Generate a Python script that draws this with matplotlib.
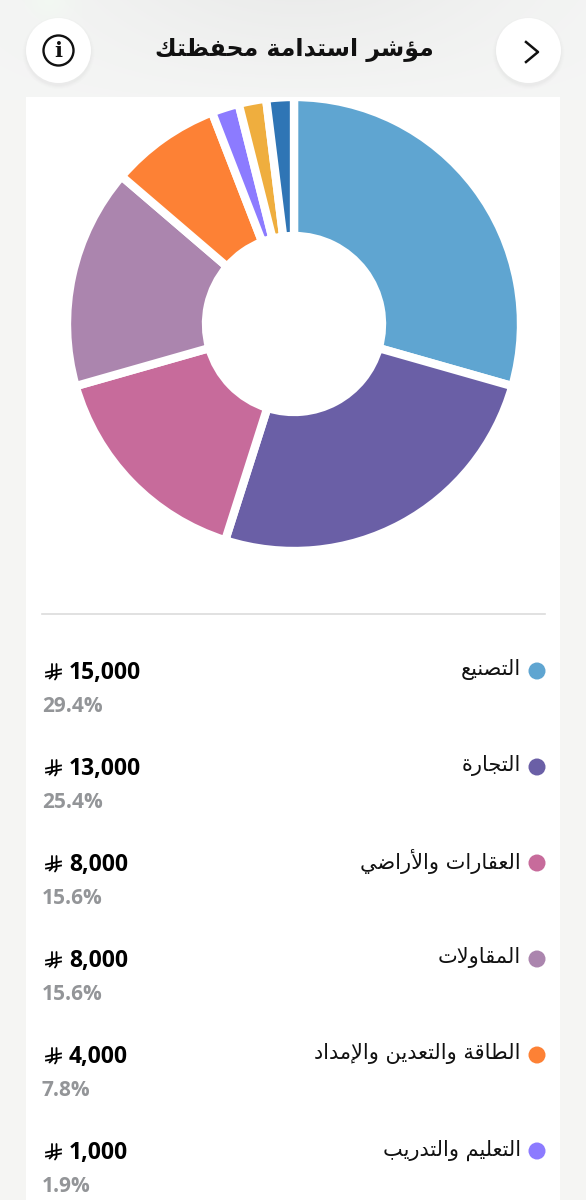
import numpy as np
import matplotlib
matplotlib.use('Agg')
import matplotlib.pyplot as plt
from matplotlib.patches import Circle, Rectangle

values = [15000, 13000, 8000, 8000, 4000, 1000, 1000, 1000]
colors = ['#5fa5d1', '#6a5fa6', '#c76b9b', '#ab85ae', '#fd8135', '#8c7bff', '#efae3e', '#2f75b5']
names = ['التصنيع', 'التجارة', 'العقارات والأراضي', 'المقاولات', 'الطاقة والتعدين والإمداد', 'التعليم والتدريب']
amounts = ['15,000', '13,000', '8,000', '8,000', '4,000', '1,000']
percents = ['29.4%', '25.4%', '15.6%', '15.6%', '7.8%', '1.9%']
title = 'مؤشر استدامة محفظتك'

# (isolated, final, initial, medial); letters with two forms only join to the right
forms = {
    'ا': (0xFE8D, 0xFE8E), 'أ': (0xFE83, 0xFE84), 'إ': (0xFE87, 0xFE88), 'ؤ': (0xFE85, 0xFE86),
    'ة': (0xFE93, 0xFE94), 'د': (0xFEA9, 0xFEAA), 'ر': (0xFEAD, 0xFEAE), 'و': (0xFEED, 0xFEEE),
    'ب': (0xFE8F, 0xFE90, 0xFE91, 0xFE92), 'ت': (0xFE95, 0xFE96, 0xFE97, 0xFE98),
    'ج': (0xFE9D, 0xFE9E, 0xFE9F, 0xFEA0), 'ح': (0xFEA1, 0xFEA2, 0xFEA3, 0xFEA4),
    'س': (0xFEB1, 0xFEB2, 0xFEB3, 0xFEB4), 'ش': (0xFEB5, 0xFEB6, 0xFEB7, 0xFEB8),
    'ص': (0xFEB9, 0xFEBA, 0xFEBB, 0xFEBC), 'ض': (0xFEBD, 0xFEBE, 0xFEBF, 0xFEC0),
    'ط': (0xFEC1, 0xFEC2, 0xFEC3, 0xFEC4), 'ظ': (0xFEC5, 0xFEC6, 0xFEC7, 0xFEC8),
    'ع': (0xFEC9, 0xFECA, 0xFECB, 0xFECC), 'ف': (0xFED1, 0xFED2, 0xFED3, 0xFED4),
    'ق': (0xFED5, 0xFED6, 0xFED7, 0xFED8), 'ك': (0xFED9, 0xFEDA, 0xFEDB, 0xFEDC),
    'ل': (0xFEDD, 0xFEDE, 0xFEDF, 0xFEE0), 'م': (0xFEE1, 0xFEE2, 0xFEE3, 0xFEE4),
    'ن': (0xFEE5, 0xFEE6, 0xFEE7, 0xFEE8), 'ي': (0xFEF1, 0xFEF2, 0xFEF3, 0xFEF4),
}
lam_alef = {'ا': (0xFEFB, 0xFEFC), 'أ': (0xFEF7, 0xFEF8), 'إ': (0xFEF9, 0xFEFA)}


# matplotlib does no shaping or bidi, so pick the joined forms and reverse
def arabic(s):
    out = []
    i = 0
    joins = False
    while i < len(s):
        c = s[i]
        if c not in forms:
            out.append(c)
            joins = False
            i += 1
            continue
        if c == 'ل' and i + 1 < len(s) and s[i + 1] in lam_alef:
            out.append(chr(lam_alef[s[i + 1]][1 if joins else 0]))
            joins = False
            i += 2
            continue
        f = forms[c]
        next_joins = i + 1 < len(s) and s[i + 1] in forms
        if len(f) == 2:
            out.append(chr(f[1] if joins else f[0]))
            joins = False
        else:
            if joins and next_joins:
                out.append(chr(f[3]))
            elif joins:
                out.append(chr(f[1]))
            elif next_joins:
                out.append(chr(f[2]))
            else:
                out.append(chr(f[0]))
            joins = next_joins
        i += 1
    return ''.join(out[::-1])


# new riyal sign is not in any installed font, so it is stroked by hand
def riyal(ax, x, y):
    lw = 1.3
    ax.plot([x + 6, x + 6, x + 3.5], [y - 8, y + 4, y + 6.5], color='black', lw=lw, solid_capstyle='round', zorder=3)
    ax.plot([x + 10.5, x + 10.5, x + 9], [y - 8, y + 5, y + 7.5], color='black', lw=lw, solid_capstyle='round', zorder=3)
    ax.plot([x, x + 15], [y + 0.5, y - 2.5], color='black', lw=lw, zorder=3)
    ax.plot([x, x + 15], [y + 4.5, y + 1.5], color='black', lw=lw, zorder=3)


fig = plt.figure(figsize=(5.86, 12), dpi=100, facecolor='#f5f5f3')
ax = fig.add_axes([0, 0, 1, 1])
ax.set_xlim(0, 586)
ax.set_ylim(1200, 0)
ax.axis('off')

# header wash behind the buttons
yy, xx = np.mgrid[0:100, 0:586]
wash = 0.96 - 0.035 * np.exp(-((xx - 300) / 220.0) ** 2) * np.clip(1 - yy / 110.0, 0, 1)
rgb = np.dstack([wash, wash + 0.003, wash])
rgb[..., 1] += 0.02 * np.exp(-((xx - 50) / 22.0) ** 2 - (yy / 18.0) ** 2)
ax.imshow(np.clip(rgb, 0, 1), extent=(0, 586, 100, 0), aspect='auto', zorder=0)
ax.set_xlim(0, 586)
ax.set_ylim(1200, 0)

ax.add_patch(Rectangle((26, 97), 534, 1103, color='white', lw=0, zorder=1))

for cx in [58.5, 528.5]:
    for r, a in [(36, 0.006), (35, 0.008), (34, 0.01), (33, 0.012)]:
        ax.add_patch(Circle((cx, 53), r, color='black', alpha=a, lw=0, zorder=2))
    ax.add_patch(Circle((cx, 50.5), 32.5, color='white', lw=0, zorder=3))

ax.add_patch(Circle((58.5, 50.5), 15, fill=False, ec='#111111', lw=1.7, zorder=4))
ax.text(58.5, 51, 'i', family='DejaVu Serif', fontweight='bold', fontsize=15, ha='center', va='center', color='#111111', zorder=4)
ax.plot([526, 538, 526], [42, 52, 62], color='#111111', lw=1.8, zorder=4)

ax.text(294, 50.5, arabic(title), family='DejaVu Sans', fontweight='bold', fontsize=17, ha='center', va='center', color='#111111', zorder=4)

ax.plot([42, 545], [614, 614], color='#dcdcdc', lw=1.2, zorder=2)

for i in range(len(names)):
    y = 671 + 96 * i
    ax.add_patch(Circle((537, y), 8.5, color=colors[i], lw=0, zorder=3))
    ax.text(521, y - 1, arabic(names[i]), family='DejaVu Sans', fontsize=15, ha='right', va='center', color='#111111', zorder=3)
    riyal(ax, 46, y + 1)
    ax.text(69, y + 2.5, amounts[i], family='Open Sans', fontweight='bold', fontsize=16.5, ha='left', va='center', color='black', zorder=3)
    ax.text(42, y + 36, percents[i], family='Open Sans', fontweight='bold', fontsize=15, ha='left', va='center', color='#939598', zorder=3)

# pie sits in its own axes, sized in pixels around the ring centre; its top edge
# stops at the panel so the white wedge outline does not spill onto the header
half = 227
pie_ax = fig.add_axes([(294 - half) / 586, (1200 - 324 - half) / 1200, 2 * half / 586, 2 * half / 1200])
pie_ax.pie(values, colors=colors, startangle=90, counterclock=False, radius=227,
           wedgeprops=dict(width=139, edgecolor='white', linewidth=6, clip_on=True))
pie_ax.set_xlim(-half, half)
pie_ax.set_ylim(-half, half)

fig.savefig('out.png', dpi=100)
